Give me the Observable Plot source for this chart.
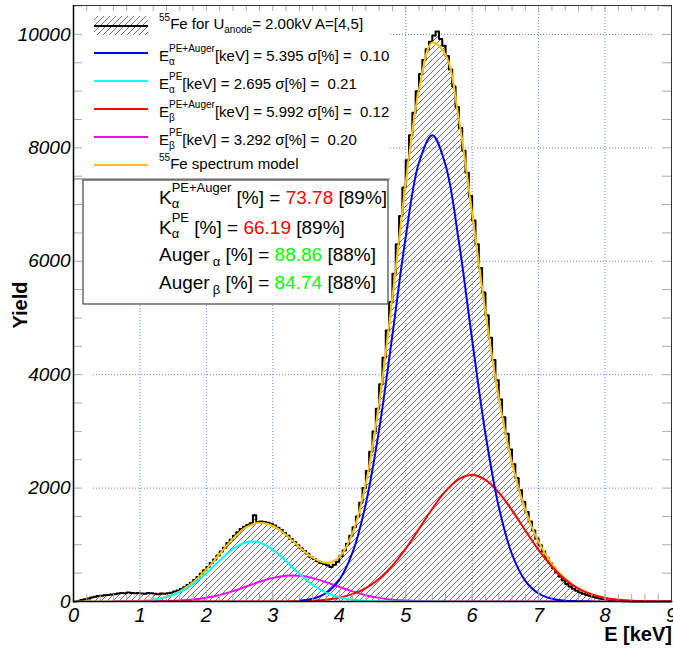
<!DOCTYPE html>
<html><head><meta charset="utf-8">
<script src="https://cdn.jsdelivr.net/npm/d3@7"></script>
<script src="https://cdn.jsdelivr.net/npm/@observablehq/plot@0.6"></script>
<style>html,body{margin:0;padding:0;background:#fff}svg{display:block}</style>
</head><body><div id="chart"></div>
<script>
// ---------- data ----------
const xTicks = [0,1,2,3,4,5,6,7,8,9];
const yTicks = [0,2000,4000,6000,8000,10000];
const gridX = [1,2,3,4,5,6,7,8];
const gridY = [2000,4000,6000,8000,10000];

// histogram: 0.05 keV bins starting at 0 keV
const binStart = 0, binWidth = 0.05;
const histCounts = [
  0,10,25,40,55,70,85,95,100,110,
  115,125,130,140,150,145,160,150,145,150,
  140,135,150,145,135,130,140,135,145,155,
  175,195,220,250,290,330,380,430,490,550,
  610,680,740,810,880,950,1030,1090,1160,1220,
  1280,1320,1350,1380,1520,1400,1410,1400,1390,1370,
  1340,1300,1260,1210,1160,1100,1050,990,940,890,
  840,780,750,710,680,660,640,610,650,700,
  800,900,1020,1160,1310,1500,1740,2000,2300,2640,
  3000,3400,3830,4300,4780,5280,5780,6300,6800,7300,
  7780,8220,8620,9000,9300,9550,9740,9870,9980,10050,
  9920,9800,9620,9380,9080,8720,8350,7950,7560,7150,
  6720,6300,5880,5450,5050,4650,4260,3900,3560,3250,
  2960,2680,2420,2180,1960,1760,1580,1410,1250,1110,
  990,880,770,680,590,510,440,370,310,265,
  225,190,160,135,115,95,78,65,55,45,
  35,27,20,14,10,6,4,2,1,0,
  0,0,0,0,0,0,0,0,0,0
];

// fitted curves read every 0.2 keV from 0 to 9 keV
const curveStep = 0.2;
const blueAlphaPEAuger = [0,0,0,0,0,0,0,0,0,0,0,0,0,0,0,0,
  4,15,51,149,382,865,1725,3033,4703,6426,7742,8220,7694,6346,4615,2958,1671,833,365,141,48,14,4,1,
  0,0,0,0,0,0];
const cyanAlphaPE = [0,0,0,1,4,12,32,77,163,304,499,723,925,1045,1042,917,712,488,295,158,74,31,11,4,1,
  0,0,0,0,0,0,0,0,0,0,0,0,0,0,0,0,0,0,0,0,0];
const redBetaPEAuger = [0,0,0,0,0,0,0,0,0,0,0,0,0,0,0,0,
  2,6,14,32,67,130,237,401,634,933,1280,1636,1946,2158,2230,2146,1925,1608,1251,908,613,386,226,124,63,30,13,5,2,1];
const magentaBetaPE = [0,0,0,0,0,1,3,7,17,35,67,116,183,265,348,417,456,454,412,341,258,178,111,64,33,16,7,3,1,
  0,0,0,0,0,0,0,0,0,0,0,0,0,0,0,0,0];
const modelFe55 = [0,0,0,1,4,13,35,84,180,339,566,839,1108,1310,1390,
  1336,1174,963,772,680,781,1204,2084,3502,5371,7375,9029,9859,9641,8504,6845,5104,3596,2441,1616,1049,661,400,230,125,63,30,13,5,2,1];

const fitMeans = ["5.395","2.695","5.992","3.292"];
const fitSigmas = ["0.10","0.21","0.12","0.20"];
const ratioValues = ["73.78","66.19","88.86","84.74"];
const ratioRefs = ["[89%]","[89%]","[88%]","[88%]"];

// ---------- layout ----------
const W = 673, H = 649, mL = 73, mR = 2, mT = 5, mB = 48;
const pw = W - mL - mR, ph = H - mT - mB;
const FONT = "'Liberation Sans', Arial, sans-serif";

const histPts = histCounts.map((n, i) => ({e: binStart + i * binWidth, n}));
histPts.push({e: binStart + histCounts.length * binWidth, n: histCounts[histCounts.length - 1]});

function curvePts(arr, lo, hi) {
  return arr.map((v, i) => ({e: +(i * curveStep).toFixed(2), v})).filter(d => d.e >= lo - 1e-9 && d.e <= hi + 1e-9);
}

const xMinor = d3.range(0, 9.001, 0.2).map(v => +v.toFixed(2));
const yMinor = d3.range(0, 10501, 500);

const curveOpts = (stroke) => ({x: "e", y: "v", stroke, strokeWidth: 2, curve: "catmull-rom", clip: "frame"});

const svg = Plot.plot({
  width: W, height: H,
  marginLeft: mL, marginRight: mR, marginTop: mT, marginBottom: mB,
  x: {domain: [0, 9]},
  y: {domain: [0, 10510]},
  style: {fontFamily: FONT, fontSize: "19px", background: "#fff", color: "#000"},
  marks: [
    Plot.ruleX(gridX, {stroke: "#6d84f2", strokeDasharray: "1,2", insetBottom: 8}),
    Plot.ruleY(gridY, {stroke: "#6d84f2", strokeDasharray: "1,2", insetLeft: 20, insetRight: 18}),
    Plot.areaY(histPts, {x: "e", y: "n", curve: "step-after", fill: "url(#hatch)"}),
    Plot.line(histPts, {x: "e", y: "n", curve: "step-after", stroke: "#000", strokeWidth: 2}),
    Plot.line(curvePts(modelFe55, 0, 9), curveOpts("#ffc000")),
    Plot.line(curvePts(magentaBetaPE, 0.6, 9), curveOpts("#ff00ff")),
    Plot.line(curvePts(redBetaPEAuger, 1.2, 9), curveOpts("#ff0000")),
    Plot.line(curvePts(blueAlphaPEAuger, 3.4, 7.8), curveOpts("#0000ff")),
    Plot.line(curvePts(cyanAlphaPE, 1.2, 5.6), curveOpts("#00ffff")),
    // ticks (inward, all four sides)
    Plot.tickX(xMinor, {x: d => d, insetTop: ph - 7, stroke: "#aaa"}),
    Plot.tickX(xTicks, {x: d => d, insetTop: ph - 11, stroke: "#aaa"}),
    Plot.tickX(xMinor, {x: d => d, insetBottom: ph - 6, stroke: "#aaa"}),
    Plot.tickY(yMinor, {y: d => d, insetRight: pw - 9, stroke: "#aaa"}),
    Plot.tickY(yMinor, {y: d => d, insetLeft: pw - 9, stroke: "#aaa"}),
    Plot.frame({stroke: "#333"}),
    Plot.ruleX([0], {stroke: "#000", strokeWidth: 1.5}),
    Plot.ruleY([0], {stroke: "#000", strokeWidth: 1.5}),
    Plot.axisX(xTicks, {tickSize: 0, tickPadding: 6, fontStyle: "italic", fontSize: 20, label: null, tickFormat: d => String(d)}),
    Plot.axisY(yTicks, {tickSize: 0, tickPadding: 3, fontStyle: "italic", fontSize: 19, label: null, tickFormat: d => String(d)})
  ]
});
document.getElementById("chart").appendChild(svg);

const s = d3.select(svg);
const defs = s.insert("defs", ":first-child");
const pat = defs.append("pattern").attr("id", "hatch").attr("patternUnits", "userSpaceOnUse")
  .attr("width", 6).attr("height", 6);
pat.append("path").attr("d", "M0,6 L6,0 M-1.5,1.5 L1.5,-1.5 M4.5,7.5 L7.5,4.5")
  .attr("stroke", "#444").attr("stroke-width", 0.75).attr("fill", "none");

// ---------- legend and stats box (inserted under ticks/frame) ----------
const legend = document.createElementNS("http://www.w3.org/2000/svg", "g");
svg.insertBefore(legend, svg.querySelector('[aria-label="tick"]'));
const L = d3.select(legend).attr("font-family", FONT).attr("text-anchor", "start");

L.append("rect").attr("x", 84).attr("y", 6).attr("width", 306).attr("height", 173).attr("fill", "#fff");
L.append("line").attr("x1", 74).attr("x2", 390).attr("y1", 179).attr("y2", 179).attr("stroke", "#666");

function rich(parent, x, y, parts) {
  let cx = x, lastStart = x, lastW = 0;
  for (const p of parts) {
    const startX = p.stack ? lastStart : cx + (p.dx || 0);
    const t = parent.append("text").attr("x", startX).attr("y", y + (p.dy || 0))
      .attr("font-size", p.size).attr("fill", p.fill || "#000").attr("text-anchor", "start")
      .style("white-space", "pre").text(p.t);
    const w = t.node().getComputedTextLength();
    if (p.stack) { cx = startX + Math.max(lastW, w); }
    else { cx = startX + w; lastStart = startX; lastW = w; }
  }
}

// entry 1: histogram symbol
L.append("rect").attr("x", 94).attr("y", 16).attr("width", 54).attr("height", 19).attr("fill", "url(#hatch)");
L.append("line").attr("x1", 94).attr("x2", 148).attr("y1", 26).attr("y2", 26).attr("stroke", "#000").attr("stroke-width", 2);
rich(L, 159, 29, [
  {t: "55", size: 10, dy: -8}, {t: "Fe for U", size: 15}, {t: "anode", size: 10, dy: 4}, {t: "= 2.00kV A=[4,5]", size: 15}
]);

const lineColors = ["#0000ff", "#00ffff", "#ff0000", "#ff00ff", "#ffc000"];
const lineYs = [53, 81, 109, 137, 165];
const subs = ["α", "α", "β", "β"];
const sups = ["PE+Auger", "PE", "PE+Auger", "PE"];
const textYs = [61, 89, 117, 145];
lineColors.forEach((c, i) => {
  L.append("line").attr("x1", 94).attr("x2", 148).attr("y1", lineYs[i]).attr("y2", lineYs[i])
    .attr("stroke", c).attr("stroke-width", 2);
});
for (let i = 0; i < 4; i++) {
  rich(L, 159, textYs[i], [
    {t: "E", size: 15}, {t: subs[i], size: 10, dy: 4}, {t: sups[i], size: 10, dy: -9, stack: true},
    {t: `[keV] = ${fitMeans[i]} σ[%] =  ${fitSigmas[i]}`, size: 15}
  ]);
}
rich(L, 159, 169, [{t: "55", size: 10, dy: -8}, {t: "Fe spectrum model", size: 15}]);

// stats box
L.append("rect").attr("x", 83).attr("y", 180).attr("width", 305).attr("height", 124)
  .attr("fill", "#fff").attr("stroke", "#444").attr("stroke-width", 1.2);
rich(L, 159, 204, [
  {t: "K", size: 19}, {t: "α", size: 13, dy: 4}, {t: "PE+Auger", size: 13, dy: -12, stack: true},
  {t: " [%] = ", size: 19}, {t: ratioValues[0], size: 19, fill: "#ff0000"}, {t: " " + ratioRefs[0], size: 19}
]);
rich(L, 159, 234, [
  {t: "K", size: 19}, {t: "α", size: 13, dy: 4}, {t: "PE", size: 13, dy: -12, stack: true},
  {t: " [%] = ", size: 19}, {t: ratioValues[1], size: 19, fill: "#ff0000"}, {t: " " + ratioRefs[1], size: 19}
]);
rich(L, 159, 261, [
  {t: "Auger", size: 19}, {t: "α", size: 13, dy: 5, dx: 3},
  {t: " [%] = ", size: 19}, {t: ratioValues[2], size: 19, fill: "#00ff00"}, {t: " " + ratioRefs[2], size: 19}
]);
rich(L, 159, 289, [
  {t: "Auger", size: 19}, {t: "β", size: 13, dy: 5, dx: 3},
  {t: " [%] = ", size: 19}, {t: ratioValues[3], size: 19, fill: "#00ff00"}, {t: " " + ratioRefs[3], size: 19}
]);

// axis titles
s.append("text").attr("transform", "translate(27,305) rotate(-90)").attr("text-anchor", "middle")
  .attr("font-family", FONT).attr("font-weight", "bold").attr("font-size", 20).text("Yield");
s.append("text").attr("x", 672).attr("y", 641).attr("text-anchor", "end")
  .attr("font-family", FONT).attr("font-weight", "bold").attr("font-size", 20).text("E [keV]");
</script>
</body></html>
